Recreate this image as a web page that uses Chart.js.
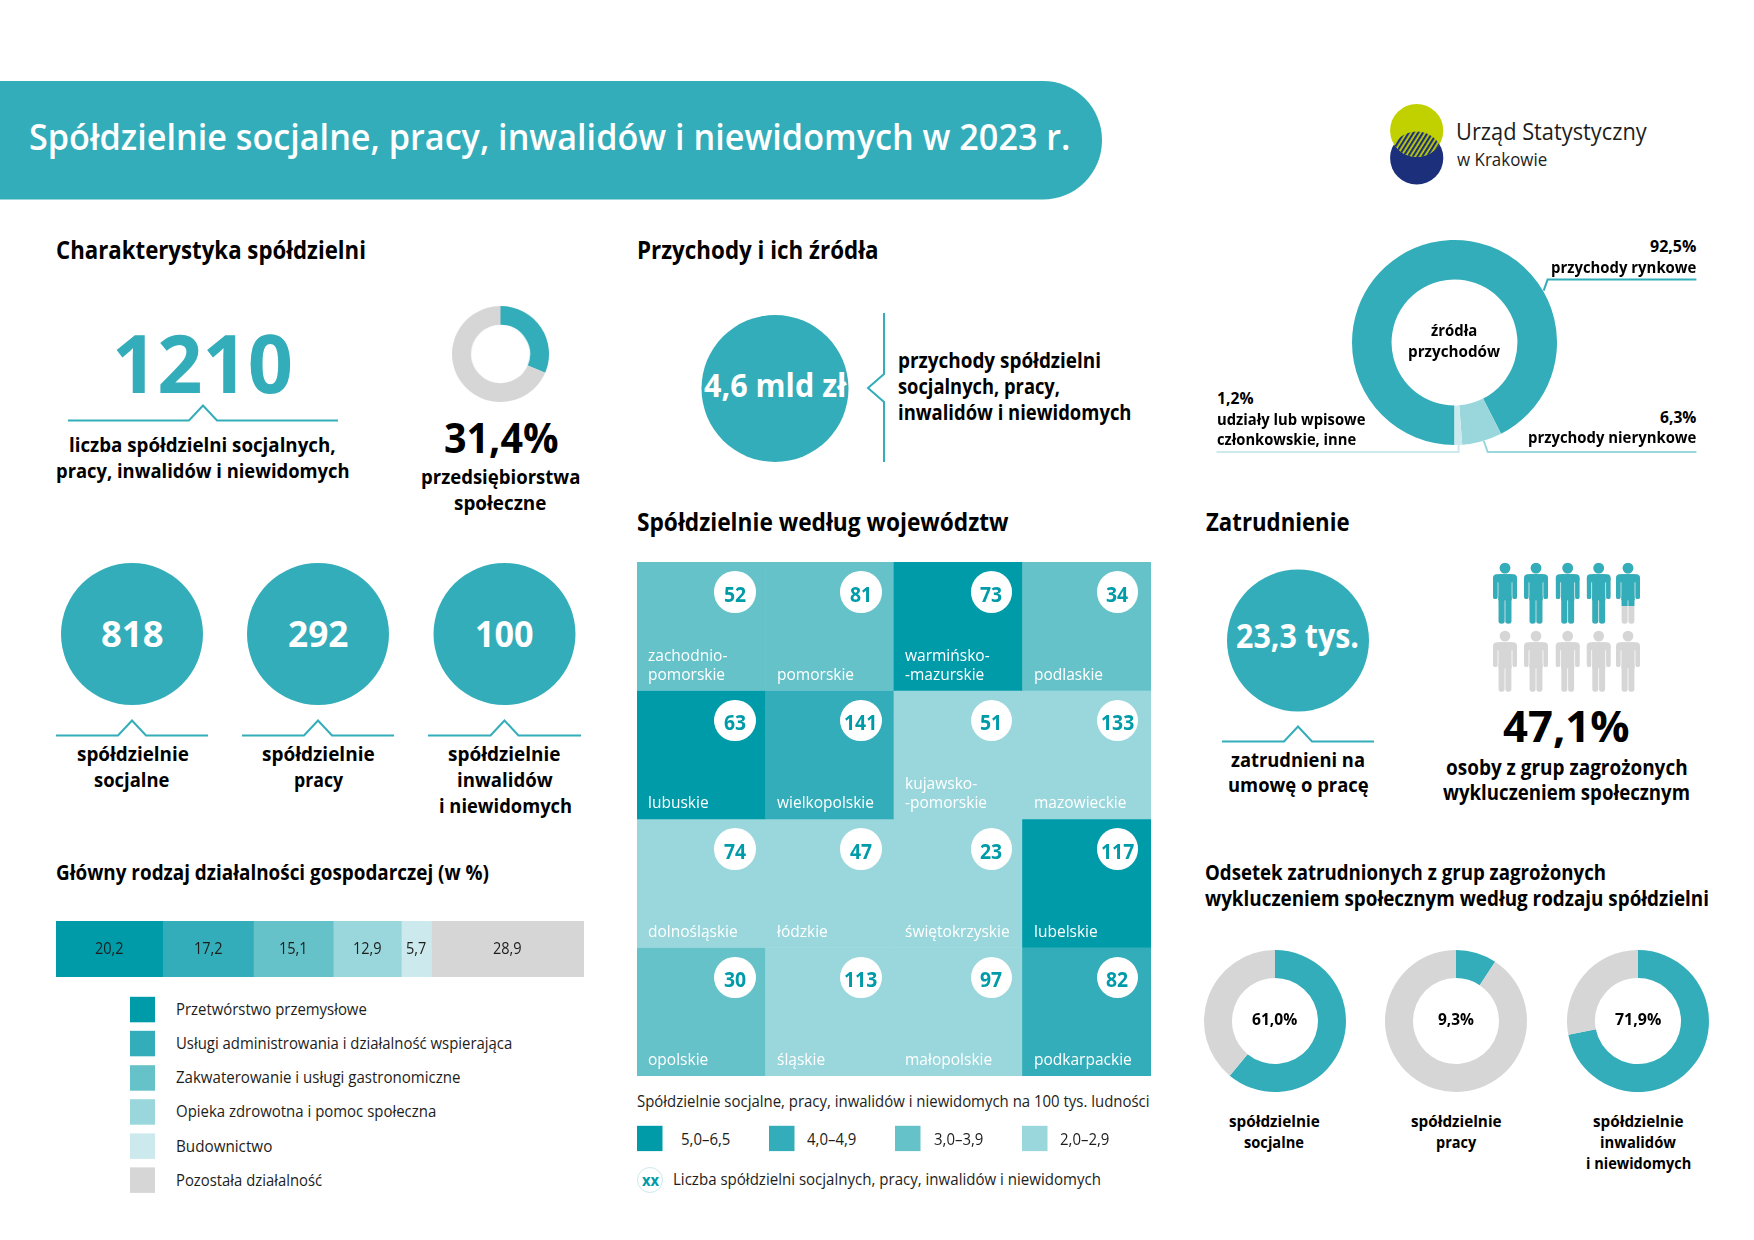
<!DOCTYPE html>
<html lang="pl">
<head>
<meta charset="utf-8">
<title>Spółdzielnie socjalne, pracy, inwalidów i niewidomych w 2023 r.</title>
<script src="https://cdn.jsdelivr.net/npm/chart.js@4/dist/chart.umd.min.js"></script>
<style>
  html, body { margin: 0; background: #fff; }
  #page { position: relative; width: 1754px; height: 1240px; overflow: hidden; font-family: "Open Sans", sans-serif; }
  #page svg.layer { position: absolute; left: 0; top: 0; }
  #page canvas { position: absolute; }
  .t { position: absolute; line-height: 1; white-space: nowrap; transform-origin: left top; }
  .bubble { position: absolute; background: #fff; border-radius: 50%; }
</style>
</head>
<body>
<div id="page"></div>
<script>
// dane
const activityLabels = ['Przetwórstwo przemysłowe', 'Usługi administrowania i działalność wspierająca', 'Zakwaterowanie i usługi gastronomiczne', 'Opieka zdrowotna i pomoc społeczna', 'Budownictwo', 'Pozostała działalność'];
const activityValues = [20.2, 17.2, 15.1, 12.9, 5.7, 28.9];
const activityText = ['20,2', '17,2', '15,1', '12,9', '5,7', '28,9'];

const regionNames = [
  'zachodnio-\npomorskie', 'pomorskie', 'warmińsko-\n-mazurskie', 'podlaskie',
  'lubuskie', 'wielkopolskie', 'kujawsko-\n-pomorskie', 'mazowieckie',
  'dolnośląskie', 'łódzkie', 'świętokrzyskie', 'lubelskie',
  'opolskie', 'śląskie', 'małopolskie', 'podkarpackie',
];
const regionCounts = [52, 81, 73, 34, 63, 141, 51, 133, 74, 47, 23, 117, 30, 113, 97, 82];
const regionClass = [2, 2, 0, 2, 0, 1, 3, 3, 3, 3, 3, 0, 2, 3, 3, 1];
const rateLabels = ['5,0–6,5', '4,0–4,9', '3,0–3,9', '2,0–2,9'];

const socialEnterpriseShare = [31.4, 68.6];
const incomeShares = [92.5, 6.3, 1.2];
const riskSocial = [61.0, 39.0];
const riskWork = [9.3, 90.7];
const riskDisabled = [71.9, 28.1];
const riskOverall = 47.1;

const TEAL = '#33adb9';
const GREY = '#d6d6d6';
const shades = ['#009ba9', '#33adb9', '#66c2c9', '#99d7dc', '#cceaed', GREY];

const page = document.getElementById('page');
let svg = '';

function disc(cx, cy, r, color) {
  svg += `<circle cx="${cx}" cy="${cy}" r="${r}" fill="${color}"/>`;
}
function line(points, color, width = 2) {
  svg += `<polyline points="${points.map((p) => p.join(',')).join(' ')}" fill="none" stroke="${color}" stroke-width="${width}"/>`;
}
function chevron(x1, x2, cx, y, halfFoot = 14, rise = 15) {
  line([[x1, y], [cx - halfFoot, y], [cx, y - rise], [cx + halfFoot, y], [x2, y]], TEAL);
}
function rect(x, y, w, h, color, rx = 0) {
  svg += `<rect x="${x}" y="${y}" width="${w}" height="${h}" rx="${rx}" fill="${color}"/>`;
}

// tekst: od x1 do x2, y to linia bazowa
function text(str, x1, x2, base, size, weight = 700, color = '#000') {
  const el = document.createElement('div');
  el.className = 't';
  el.textContent = str;
  el.style.cssText = `left:${x1}px;top:${base + 1.2 - 0.888 * size}px;font-size:${size}px;font-weight:${weight};color:${color}`;
  page.appendChild(el);
  const natural = el.getBoundingClientRect().width;
  el.style.transform = `scaleX(${(x2 - x1) / natural})`;
  return el;
}
// tekst bez zadanej szerokosci, stale zwezenie jak w kroju oryginalu
function textAt(str, x, base, size, weight, color, align = 'left', squeeze = 0.9) {
  const el = text(str, x, x + 1, base, size, weight, color);
  el.style.transform = 'none';
  const w = el.getBoundingClientRect().width * squeeze;
  el.style.transform = `scaleX(${squeeze})`;
  if (align === 'center') el.style.left = `${x - w / 2}px`;
  return el;
}

function person(x, y, color) {
  return `<g transform="translate(${x},${y})" fill="${color}">
    <circle cx="12" cy="5.4" r="5.4"/>
    <rect x="0" y="11.6" width="24" height="8" rx="4"/>
    <rect x="0" y="14" width="4.6" height="22.4" rx="2.2"/>
    <rect x="19.4" y="14" width="4.6" height="22.4" rx="2.2"/>
    <rect x="5.4" y="11.6" width="13.2" height="26"/>
    <rect x="5.6" y="32" width="6" height="29" rx="2.6"/>
    <rect x="12.4" y="32" width="6" height="29" rx="2.6"/>
  </g>`;
}

function placeCanvas(x, y, w, h) {
  const canvas = document.createElement('canvas');
  canvas.width = w;
  canvas.height = h;
  canvas.style.cssText = `left:${x}px;top:${y}px;width:${w}px;height:${h}px`;
  page.appendChild(canvas);
  return canvas;
}

function doughnut(cx, cy, outer, inner, values, colors, rotation = 0) {
  const size = outer * 2;
  return new Chart(placeCanvas(cx - outer, cy - outer, size, size), {
    type: 'doughnut',
    data: { datasets: [{ data: values, backgroundColor: colors, borderWidth: 0 }] },
    options: {
      responsive: false,
      animation: false,
      rotation,
      cutout: `${(inner / outer) * 100}%`,
      plugins: { legend: { display: false }, tooltip: { enabled: false } },
    },
  });
}

// naglowek
rect(-80, 81, 1182, 118.5, TEAL, 59);

// logo
svg += `<defs>
  <pattern id="hatch" width="4" height="4" patternUnits="userSpaceOnUse" patternTransform="rotate(32)">
    <rect width="4" height="4" fill="#c1d100"/><rect width="2.2" height="4" fill="#1b2f7a"/>
  </pattern>
  <clipPath id="lens"><circle cx="1416.7" cy="130.5" r="26.6"/></clipPath>
</defs>`;
disc(1416.7, 158, 26.6, '#1b2f7a');
disc(1416.7, 130.5, 26.6, '#c1d100');
svg += `<circle cx="1416.7" cy="158" r="26.6" fill="url(#hatch)" clip-path="url(#lens)"/>`;

// kolka z liczbami
disc(775, 388.5, 73.5, TEAL);
disc(132, 634, 71, TEAL);
disc(318, 634, 71, TEAL);
disc(504.5, 634, 71, TEAL);
disc(1298, 640.5, 71, TEAL);

chevron(68, 338, 203, 420.5);
chevron(56, 208, 132, 735.5);
chevron(242, 394, 318, 735.5);
chevron(428, 581, 504.5, 735.5);
chevron(1222, 1374, 1298, 741.5);
line([[884, 313], [884, 374], [868, 388], [884, 402], [884, 462]], TEAL);

// linie opisow zrodel przychodow
line([[1543.7, 290.6], [1547.6, 279.6], [1696.4, 279.6]], TEAL);
line([[1483.8, 441], [1487.7, 452], [1696.4, 452]], shades[3]);
line([[1216.5, 452], [1458.6, 452], [1458.6, 445]], shades[4]);

// piktogramy: 10 postaci = 100%
const personCols = [1493, 1524, 1555.7, 1586.7, 1616];
const personRows = [562.7, 630.7];
personRows.forEach((py, r) => personCols.forEach((px, c) => {
  const fill = Math.max(0, Math.min(1, riskOverall / 10 - (r * 5 + c)));
  svg += person(px, py, GREY);
  if (fill > 0) svg += `<svg x="${px}" y="${py}" width="24" height="${61 * fill}">${person(0, 0, TEAL)}</svg>`;
}));

// legendy
const activitySwatchY = [996.8, 1030.8, 1065.2, 1099.2, 1133.4, 1167.4];
activitySwatchY.forEach((y, i) => rect(130, y, 25, 25.5, shades[i]));
const rateSwatchX = [637, 769, 895, 1022];
rateSwatchX.forEach((x, i) => rect(x, 1125.8, 25.5, 25.3, shades[i]));

page.insertAdjacentHTML('beforeend', '<svg class="layer" width="1754" height="1240"></svg>');
page.querySelector('svg.layer').innerHTML = svg;

// wykresy
doughnut(500.6, 354, 48.4, 29.4, socialEnterpriseShare, [TEAL, GREY]);
doughnut(1454.5, 342.4, 102.6, 63, incomeShares, [TEAL, shades[3], shades[4]], 180);
doughnut(1274.6, 1020.5, 71, 43, riskSocial, [TEAL, GREY]);
doughnut(1456.4, 1020.5, 71, 43, riskWork, [TEAL, GREY]);
doughnut(1638, 1020.5, 71, 43, riskDisabled, [TEAL, GREY]);

const barLeft = 56, barTop = 921;
const activityChart = new Chart(placeCanvas(barLeft, barTop, 528, 56), {
  type: 'bar',
  data: {
    labels: [''],
    datasets: activityValues.map((v, i) => ({ label: activityLabels[i], data: [v], backgroundColor: shades[i], barPercentage: 1, categoryPercentage: 1 })),
  },
  options: {
    indexAxis: 'y',
    responsive: false,
    animation: false,
    layout: { padding: 0 },
    scales: {
      x: { display: false, stacked: true, min: 0, max: 100 },
      y: { display: false, stacked: true },
    },
    plugins: { legend: { display: false }, tooltip: { enabled: false } },
  },
});

const gridLeft = 637, gridTop = 562;
const gridCols = 4;
const bubbleInset = [30.5, 33, 31, 33.5];
const gridChart = new Chart(placeCanvas(gridLeft, gridTop, 514, 514), {
  type: 'bar',
  data: {
    labels: ['k1', 'k2', 'k3', 'k4'],
    datasets: [0, 1, 2, 3].map((row) => ({
      label: `w${row + 1}`,
      data: [1, 1, 1, 1],
      backgroundColor: [0, 1, 2, 3].map((col) => shades[regionClass[row * gridCols + col]]),
      borderWidth: 0,
      barPercentage: 1,
      categoryPercentage: 1,
    })),
  },
  options: {
    responsive: false,
    animation: false,
    layout: { padding: 0 },
    scales: {
      x: { display: false, stacked: true },
      y: { display: false, stacked: true, reverse: true, min: 0, max: 4 },
    },
    plugins: { legend: { display: false }, tooltip: { enabled: false } },
  },
});

// etykiety slupka
activityText.forEach((label, i) => {
  const el = activityChart.getDatasetMeta(i).data[0];
  textAt(label, barLeft + (el.x + el.base) / 2, 953, 16.5, 400, '#1d1d1b', 'center', 0.88);
});

// opisy kafelkow
regionNames.forEach((name, i) => {
  const row = Math.floor(i / gridCols);
  const col = i % gridCols;
  const el = gridChart.getDatasetMeta(row).data[col];
  const left = gridLeft + el.x - el.width / 2;
  const right = left + el.width;
  const top = gridTop + Math.min(el.y, el.base);
  const bottom = gridTop + Math.max(el.y, el.base);
  const parts = name.split('\n');
  parts.forEach((part, k) => {
    textAt(part, left + 11, bottom - 11.5 - (parts.length - 1 - k) * 19, 16, 400, '#fff', 'left', 0.97);
  });
  const bubble = document.createElement('div');
  bubble.className = 'bubble';
  bubble.style.cssText = `left:${right - bubbleInset[col] - 20.7}px;top:${top + 30 - 20.7}px;width:41.4px;height:41.4px`;
  page.appendChild(bubble);
  textAt(String(regionCounts[i]), right - bubbleInset[col], top + 38, 22, 700, '#009ba9', 'center', 0.88);
});

// tytul i logo
text('Spółdzielnie socjalne, pracy, inwalidów i niewidomych w 2023 r.', 29, 1070.5, 149.5, 36, 600, '#fff');
text('Urząd Statystyczny', 1456, 1646.7, 139.7, 23.4, 400, '#1d1d1b');
text('w Krakowie', 1456.7, 1547, 165, 18, 400, '#1d1d1b');

// sekcje
text('Charakterystyka spółdzielni', 56, 366, 258, 25);
text('Przychody i ich źródła', 636.5, 878, 258, 25);
text('Spółdzielnie według województw', 636.5, 1008, 530, 25);
text('Zatrudnienie', 1206, 1349.6, 530, 25);
text('Główny rodzaj działalności gospodarczej (w %)', 56, 489, 879, 21);
text('Odsetek zatrudnionych z grup zagrożonych', 1205, 1606, 879, 21);
text('wykluczeniem społecznym według rodzaju spółdzielni', 1205, 1709, 905.5, 21);

// charakterystyka
text('1210', 112, 293, 391.5, 80, 700, TEAL);
text('liczba spółdzielni socjalnych,', 69, 335.6, 452, 20);
text('pracy, inwalidów i niewidomych', 56, 349.6, 477.6, 20);
text('31,4%', 443.5, 558, 452, 41);
text('przedsiębiorstwa', 420.6, 580, 484, 20);
text('społeczne', 454, 546.4, 510, 20);

text('818', 100.7, 163.3, 645.7, 35, 700, '#fff');
text('292', 288, 348.4, 645.7, 35, 700, '#fff');
text('100', 475.4, 534, 645.7, 35, 700, '#fff');
text('spółdzielnie', 76.6, 188.5, 760.8, 20);
text('socjalne', 94, 169.5, 786.5, 20);
text('spółdzielnie', 262, 374.7, 760.8, 20);
text('pracy', 293.6, 342.8, 786.5, 20);
text('spółdzielnie', 448, 560.4, 760.8, 20);
text('inwalidów', 457, 552.6, 786.5, 20);
text('i niewidomych', 438.5, 571.6, 812.5, 20);

// legenda dzialalnosci
const activityLegendRight = [366.3, 511.7, 460, 435.7, 271.8, 321.6];
const activityLegendBase = [1014, 1048, 1082, 1116, 1151, 1185];
activityLabels.forEach((label, i) => text(label, 175.5, activityLegendRight[i], activityLegendBase[i], 16.5, 400, '#1d1d1b'));

// przychody
text('4,6 mld zł', 703.6, 846, 396.6, 32, 700, '#fff');
text('przychody spółdzielni', 898, 1101, 367.7, 21);
text('socjalnych, pracy,', 898, 1060, 393.4, 21);
text('inwalidów i niewidomych', 898, 1131.5, 419, 21);

text('92,5%', 1650, 1696.4, 251, 16.5);
text('przychody rynkowe', 1551, 1696.4, 272, 16.5);
text('6,3%', 1660, 1696.4, 422.5, 16.5);
text('przychody nierynkowe', 1528, 1696.4, 442.5, 16.5);
text('1,2%', 1216.5, 1253, 403, 16.5);
text('udziały lub wpisowe', 1216.5, 1365, 424, 16.5);
text('członkowskie, inne', 1216.5, 1355.7, 444, 16.5);
text('źródła', 1430.7, 1477, 335.5, 16.5);
text('przychodów', 1408, 1500, 356.5, 16.5);

// legenda mapy
text('Spółdzielnie socjalne, pracy, inwalidów i niewidomych na 100 tys. ludności', 636.5, 1149, 1106, 16.5, 400, '#1d1d1b');
const rateLabelX = [680.6, 806.5, 934, 1060.4];
rateLabels.forEach((label, i) => text(label, rateLabelX[i], rateLabelX[i] + 49.4, 1144, 16.5, 400, '#1d1d1b'));
const xxBubble = document.createElement('div');
xxBubble.className = 'bubble';
xxBubble.style.cssText = 'left:637px;top:1167px;width:24px;height:24px;border:1px solid #cceaed';
page.appendChild(xxBubble);
text('xx', 641.5, 658.5, 1184.6, 16, 700, '#009ba9');
text('Liczba spółdzielni socjalnych, pracy, inwalidów i niewidomych', 672.8, 1100.7, 1184.5, 16.5, 400, '#1d1d1b');

// zatrudnienie
text('23,3 tys.', 1236, 1359, 647, 34, 700, '#fff');
text('zatrudnieni na', 1231, 1365, 766.5, 20);
text('umowę o pracę', 1228, 1368.6, 792, 20);
text('47,1%', 1503.4, 1630, 741.4, 43);
text('osoby z grup zagrożonych', 1445.8, 1687.4, 774, 20.5);
text('wykluczeniem społecznym', 1443, 1690, 799, 20.5);

// pierscienie wedlug rodzaju
text('61,0%', 1252, 1297.3, 1024, 16.5);
text('9,3%', 1438, 1474, 1024, 16.5);
text('71,9%', 1614.7, 1661, 1024, 16.5);
text('spółdzielnie', 1229, 1319.7, 1126, 16.5);
text('socjalne', 1244, 1304, 1147, 16.5);
text('spółdzielnie', 1411, 1501.6, 1126, 16.5);
text('pracy', 1436.3, 1476.5, 1147, 16.5);
text('spółdzielnie', 1593, 1683.6, 1126, 16.5);
text('inwalidów', 1600, 1676, 1147, 16.5);
text('i niewidomych', 1585.6, 1690.8, 1168, 16.5);
</script>
</body>
</html>
